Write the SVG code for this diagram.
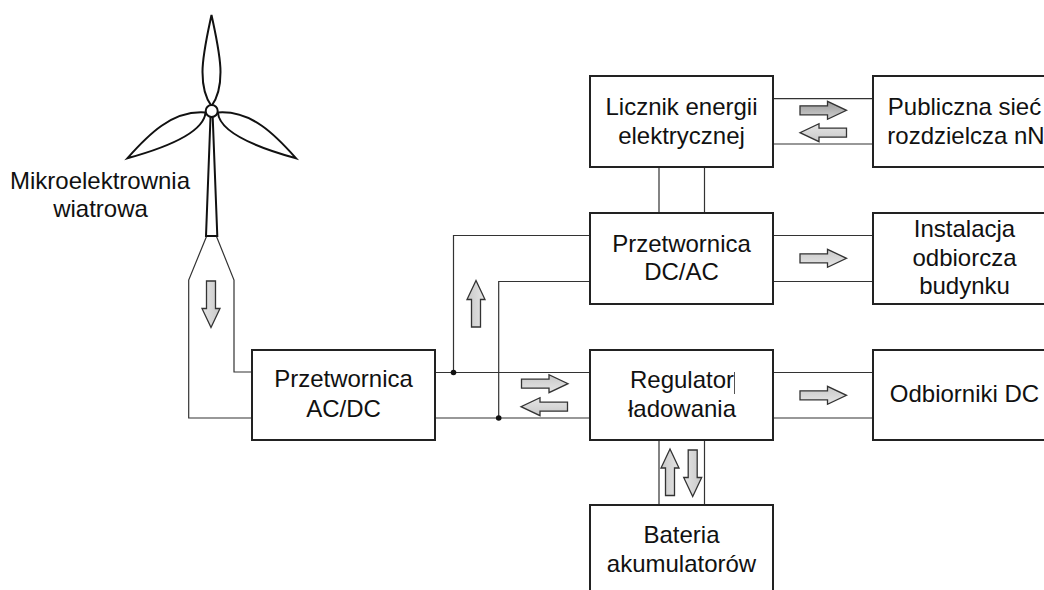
<svg xmlns="http://www.w3.org/2000/svg" width="1044" height="590" viewBox="0 0 1044 590">
<style>
text{font-family:"Liberation Sans",Arial,sans-serif;font-size:24px;fill:#111;text-anchor:middle}
.box{fill:#fff;stroke:#222;stroke-width:2}
.w{fill:none;stroke:#333;stroke-width:1.2}
.t{fill:#fff;stroke:#111;stroke-width:2;stroke-linejoin:miter}
.a{stroke:#333;stroke-width:1.3}
</style>
<defs>
<linearGradient id="g" x1="0" y1="0" x2="0" y2="1"><stop offset="0" stop-color="#c8c8c8"/><stop offset="1" stop-color="#e6e6e6"/></linearGradient>
<linearGradient id="gd" x1="0" y1="0" x2="0" y2="1"><stop offset="0" stop-color="#999"/><stop offset="1" stop-color="#d0d0d0"/></linearGradient>
<path id="arrow" d="M0-4.500H27.500V-9L46.500 0 27.500 9V4.500H0Z"/>
</defs>
<rect width="1044" height="590" fill="#fff"/>
<g id="connectors">
<path class="w" d="M206.700 236 188.700 280V418H252M216.300 236 234 280V372H252"/>
<path class="w" d="M435 372.500H590M435 418H590M453.500 372.500V235.500H590M498.700 418V281.500H590"/>
<path class="w" d="M773 98.700H873M773 144H873M659 167V213M704.500 167V213M773 235.500H873M773 281.500H873M773 372.500H873M773 418H873M659 440V505M704.500 440V505"/>
<circle cx="453.500" cy="372.500" r="2.800" fill="#111"/>
<circle cx="498.700" cy="418" r="2.800" fill="#111"/>
</g>
<g id="flow-arrows" class="a">
<use href="#arrow" fill="url(#g)" transform="translate(211,281) rotate(90)"/>
<use href="#arrow" fill="url(#g)" transform="translate(476,327) rotate(-90)"/>
<use href="#arrow" fill="url(#g)" transform="translate(521.500,383.700)"/>
<use href="#arrow" fill="url(#g)" transform="translate(567.500,406.700) rotate(180)"/>
<use href="#arrow" fill="url(#gd)" transform="translate(800,110.300)"/>
<use href="#arrow" fill="url(#g)" transform="translate(846.500,132.700) rotate(180)"/>
<use href="#arrow" fill="url(#g)" transform="translate(800,258.300)"/>
<use href="#arrow" fill="url(#g)" transform="translate(800,395.300)"/>
<use href="#arrow" fill="url(#g)" transform="translate(670,495.500) rotate(-90)"/>
<use href="#arrow" fill="url(#g)" transform="translate(692.700,450) rotate(90)"/>
</g>
<g id="turbine">
<path class="t" d="M210.500 117 206 236H217.300L212.700 117Z"/>
<path class="t" d="M211.500 15C207 36 202.500 55 202.500 72 202.500 88 207 100 211.500 106 216 100 220.500 88 220.500 72 220.500 55 216 36 211.500 15Z"/>
<path class="t" d="M127.300 158.300C148 135 172 110 205.500 112.500 204 131 172 146 127.300 158.300Z"/>
<path class="t" d="M296.100 158.300C275.400 135 251.400 110 217.900 112.500 219.400 131 251.400 146 296.100 158.300Z"/>
<circle cx="211.700" cy="111" r="6" fill="#fff" stroke="#111" stroke-width="2"/>
<text x="100" y="188.500">Mikroelektrownia</text>
<text x="100.500" y="217">wiatrowa</text>
</g>
<g id="licznik"><rect class="box" x="590" y="76" width="183" height="91"/><text x="681.500" y="115">Licznik energii</text><text x="681.500" y="143.500">elektrycznej</text></g>
<g id="siec"><rect class="box" x="873" y="76" width="183" height="91"/><text x="964.500" y="115">Publiczna sieć</text><text x="966" y="143.500">rozdzielcza nN</text></g>
<g id="dcac"><rect class="box" x="590" y="213" width="183" height="91"/><text x="681.500" y="251.500">Przetwornica</text><text x="681.500" y="280">DC/AC</text></g>
<g id="instalacja"><rect class="box" x="873" y="213" width="183" height="91"/><text x="964.500" y="236.500">Instalacja</text><text x="964.500" y="265.500">odbiorcza</text><text x="964.500" y="294">budynku</text></g>
<g id="acdc"><rect class="box" x="252" y="350" width="183" height="90"/><text x="343.500" y="387">Przetwornica</text><text x="343.500" y="416.500">AC/DC</text></g>
<g id="regulator"><rect class="box" x="590" y="350" width="183" height="90"/><text x="682" y="388">Regulator</text><text x="682" y="417">ładowania</text><path d="M734.500 372V394" stroke="#555" stroke-width="1"/></g>
<g id="odbiorniki"><rect class="box" x="873" y="350" width="183" height="90"/><text x="964.500" y="402">Odbiorniki DC</text></g>
<g id="bateria"><rect class="box" x="590" y="505" width="183" height="95"/><text x="681.500" y="543">Bateria</text><text x="681.500" y="571.500">akumulatorów</text></g>
</svg>
